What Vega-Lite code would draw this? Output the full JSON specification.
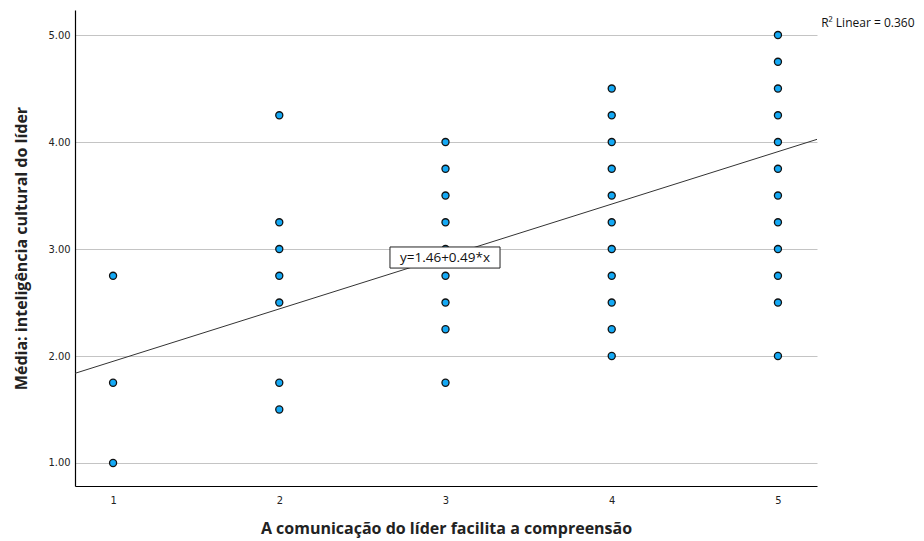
{
  "$schema": "https://vega.github.io/schema/vega-lite/v6.json",
  "width": 742,
  "height": 476,
  "autosize": "none",
  "padding": {"left": 75, "top": 10, "right": 107, "bottom": 55},
  "background": "white",
  "config": {
    "view": {"stroke": null},
    "axis": {"labelFont": "Liberation Sans Narrow, DejaVu Sans Condensed, sans-serif", "titleFont": "Open Sans", "labelColor": "#222", "titleColor": "#222"}
  },
  "datasets": {
    "pts": [
      {"x": 1, "y": 2.75}, {"x": 1, "y": 1.75}, {"x": 1, "y": 1.0},
      {"x": 2, "y": 4.25}, {"x": 2, "y": 3.25}, {"x": 2, "y": 3.0}, {"x": 2, "y": 2.75}, {"x": 2, "y": 2.5}, {"x": 2, "y": 1.75}, {"x": 2, "y": 1.5},
      {"x": 3, "y": 4.0}, {"x": 3, "y": 3.75}, {"x": 3, "y": 3.5}, {"x": 3, "y": 3.25}, {"x": 3, "y": 3.0}, {"x": 3, "y": 2.75}, {"x": 3, "y": 2.5}, {"x": 3, "y": 2.25}, {"x": 3, "y": 1.75},
      {"x": 4, "y": 4.5}, {"x": 4, "y": 4.25}, {"x": 4, "y": 4.0}, {"x": 4, "y": 3.75}, {"x": 4, "y": 3.5}, {"x": 4, "y": 3.25}, {"x": 4, "y": 3.0}, {"x": 4, "y": 2.75}, {"x": 4, "y": 2.5}, {"x": 4, "y": 2.25}, {"x": 4, "y": 2.0},
      {"x": 5, "y": 5.0}, {"x": 5, "y": 4.75}, {"x": 5, "y": 4.5}, {"x": 5, "y": 4.25}, {"x": 5, "y": 4.0}, {"x": 5, "y": 3.75}, {"x": 5, "y": 3.5}, {"x": 5, "y": 3.25}, {"x": 5, "y": 3.0}, {"x": 5, "y": 2.75}, {"x": 5, "y": 2.5}, {"x": 5, "y": 2.0}
    ],
    "fit": [{"x": 0.771, "y": 1.838, "x2": 5.235, "y2": 4.025}],
    "eqbox": [{"x": 2.666, "x2": 3.328, "y": 3.019, "y2": 2.822, "tx": 2.997, "ty": 2.915, "label": "y=1.46+0.49*x"}],
    "r2": [{"x": 5.26, "y": 5.11, "label": "R² Linear = 0.360"}]
  },
  "layer": [
    {
      "data": {"name": "pts"},
      "mark": {"type": "point", "filled": true, "fill": "#14a9f5", "stroke": "#111", "strokeWidth": 1.3, "size": 50, "opacity": 1},
      "encoding": {
        "x": {"field": "x", "type": "quantitative", "scale": {"domain": [0.771, 5.235], "nice": false, "zero": false},
          "axis": {"values": [1, 2, 3, 4, 5], "format": "d", "grid": false, "ticks": false, "labelFontSize": 11, "labelPadding": 8, "domainColor": "#000", "domainWidth": 1.2,
            "title": "A comunicação do líder facilita a compreensão", "titleFontSize": 16, "titleFontWeight": "bold", "titlePadding": 15}},
        "y": {"field": "y", "type": "quantitative", "scale": {"domain": [0.785, 5.234], "nice": false, "zero": false},
          "axis": {"values": [1, 2, 3, 4, 5], "format": ".2f", "grid": true, "gridColor": "#c4c4c4", "gridWidth": 1, "ticks": false, "labelFontSize": 11, "labelPadding": 5, "domainColor": "#000", "domainWidth": 1.2,
            "title": "Média: inteligência cultural do líder", "titleFontSize": 16, "titleFontWeight": "bold", "titlePadding": 18}}
      }
    },
    {
      "data": {"name": "fit"},
      "mark": {"type": "rule", "color": "#333", "strokeWidth": 1},
      "encoding": {
        "x": {"field": "x", "type": "quantitative"},
        "y": {"field": "y", "type": "quantitative"},
        "x2": {"field": "x2"},
        "y2": {"field": "y2"}
      }
    },
    {
      "data": {"name": "eqbox"},
      "mark": {"type": "rect", "fill": "white", "stroke": "#222", "strokeWidth": 1},
      "encoding": {
        "x": {"field": "x", "type": "quantitative"},
        "x2": {"field": "x2"},
        "y": {"field": "y", "type": "quantitative"},
        "y2": {"field": "y2"}
      }
    },
    {
      "data": {"name": "eqbox"},
      "mark": {"type": "text", "font": "Open Sans", "fontSize": 13.5, "color": "#111", "align": "center", "baseline": "middle"},
      "encoding": {
        "x": {"field": "tx", "type": "quantitative"},
        "y": {"field": "ty", "type": "quantitative"},
        "text": {"field": "label"}
      }
    },
    {
      "data": {"name": "r2"},
      "mark": {"type": "text", "font": "Open Sans", "fontSize": 12, "color": "#111", "align": "left", "baseline": "middle"},
      "encoding": {
        "x": {"field": "x", "type": "quantitative"},
        "y": {"field": "y", "type": "quantitative"},
        "text": {"field": "label"}
      }
    }
  ]
}
